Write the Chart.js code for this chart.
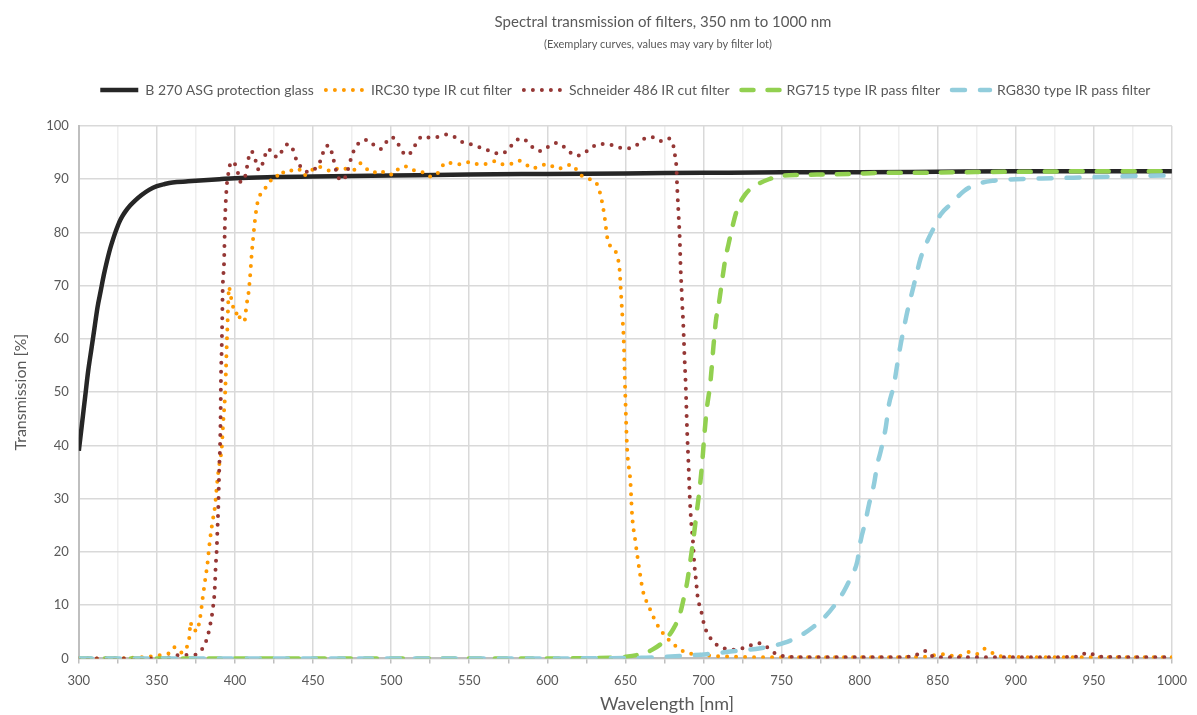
<!DOCTYPE html>
<html>
<head>
<meta charset="utf-8">
<script src="https://cdn.jsdelivr.net/npm/chart.js@4.4.1/dist/chart.umd.min.js"></script>
<style>
  body { margin: 0; background: #fff; }
  #wrap { width: 1197px; height: 715px; }
</style>
</head>
<body>
<div id="wrap"><canvas id="filterChart" width="1197" height="715"></canvas></div>
<script>
// B 270 ASG protection glass
const b270Nm = [300, 302, 304, 306, 308, 310, 312, 314, 316, 318, 320, 322, 324, 326, 328, 330, 333, 336, 340, 345, 350, 355, 360, 370, 380, 390, 400, 425, 450, 500, 550, 600, 650, 700, 750, 800, 850, 900, 950, 1000];
const b270T = [39, 44, 49, 54, 58, 62, 66, 69, 72, 74.6, 76.9, 78.8, 80.5, 82, 83.1, 84, 85.1, 86, 87, 88, 88.7, 89.1, 89.4, 89.6, 89.8, 90.0, 90.2, 90.4, 90.5, 90.7, 90.9, 91.0, 91.1, 91.2, 91.3, 91.3, 91.4, 91.5, 91.5, 91.5];

// IRC30 type IR cut filter
const irc30Nm = [300, 320, 340, 350, 355, 358, 361, 364, 367, 369, 370.7, 371.6, 372.5, 374, 376, 377, 378, 379.3, 380.8, 382.3, 384, 385.7, 387.2, 388.7, 390, 391.5, 392.5, 393.6, 394.2, 394.7, 395.3, 395.7, 396.2, 397, 398.3, 399.4, 400.4, 402.4, 403.2, 406, 407.5, 408.5, 409.6, 410.7, 411.7, 412.8, 414.3, 416, 419.2, 421.8, 426.3, 428.4, 432.7, 436.5, 440.6, 443.8, 448.1, 452.4, 457.3, 462.2, 467.3, 471.6, 476.3, 480.1, 484, 488.3, 493, 497.2, 501.5, 505.1, 510, 514.3, 519.7, 523.9, 528.8, 531.8, 535.7, 541, 546, 551, 556, 561, 566.5, 571.4, 576.7, 581.6, 586.3, 590.6, 595.7, 600.8, 605.8, 610.5, 615.4, 619, 622.6, 627.1, 631.4, 633.3, 634.6, 636.5, 638.7, 641.7, 644.4, 646.4, 647, 648.3, 648.9, 650, 651.1, 653.2, 654.3, 656.4, 658.5, 661.3, 665, 669.2, 672.4, 678.8, 687.4, 698, 720, 760, 800, 840, 855, 862, 870, 875, 880, 884, 890, 920, 960, 1000];
const irc30T = [0, 0, 0.2, 0.5, 0.8, 1, 2.1, 1.2, 1.1, 2, 3.8, 6.8, 5.4, 5.3, 5.1, 6.6, 8.3, 11.3, 14.5, 17.6, 22.3, 25.8, 28.6, 33.3, 36.5, 39.5, 44.5, 49.2, 53.9, 58.6, 63.5, 67, 69.8, 68.4, 66.8, 65.2, 64.7, 65.2, 63.7, 63.3, 66.6, 68.2, 71.5, 75.9, 79.1, 82.3, 85.4, 87, 88.2, 89.6, 90.1, 91.5, 91.1, 91.7, 92, 90.7, 91.4, 92.4, 92, 91.5, 92.2, 91.9, 91.8, 93, 92, 91.2, 91.7, 90.9, 90.9, 92.1, 92.4, 91.7, 91.4, 90.5, 90.8, 92.1, 93.2, 92.8, 92.9, 93.3, 92.8, 92.9, 93.4, 92.8, 92.9, 93.5, 92.8, 92, 92.6, 92.8, 92, 92.2, 92.8, 91.7, 90.5, 90, 89.3, 87.9, 86.4, 83.3, 78.6, 77.1, 75.9, 72.7, 69.6, 63.3, 60.2, 48.9, 39.5, 33.3, 27, 22, 17.6, 12.6, 9.8, 7, 5.4, 3.2, 1.3, 0.7, 0.3, 0.2, 0.2, 0.3, 0.8, 0.3, 1.2, 0.8, 1.8, 1.2, 0.4, 0.2, 0.2, 0.2];

// Schneider 486 IR cut filter
const schneiderNm = [300, 320, 340, 353.6, 364, 374.8, 378.6, 381.2, 382.9, 384, 385.1, 385.7, 386.5, 387.2, 387.6, 388.3, 388.7, 389.3, 389.7, 390, 390.4, 390.8, 391, 391.5, 391.9, 392.1, 393, 393.6, 394.7, 396.2, 397.4, 400.4, 402.1, 403.6, 406.4, 407.5, 408.5, 409.6, 412, 413.5, 415.4, 417.5, 419.2, 421.3, 424.5, 428, 430.5, 434.2, 437.4, 439.5, 441.7, 446, 451, 454.1, 456, 457.3, 460.5, 462.2, 463.5, 464.7, 466.5, 469.4, 471.6, 473.3, 474.8, 476.9, 480.1, 485, 489.1, 493.4, 496.6, 500.2, 504, 506.6, 510.3, 513.9, 516.5, 520.3, 525, 530.6, 535.7, 540.8, 545.5, 550.6, 555.8, 560.9, 565.6, 570.7, 575.2, 578.8, 583.3, 587.8, 591.7, 596.3, 601.1, 606, 610.5, 614.3, 619, 623.9, 628.2, 632.9, 638.3, 643.6, 648.9, 654.3, 658.5, 662.8, 668, 672.9, 677.4, 680.3, 681.4, 682.1, 682.7, 683.1, 683.5, 684.2, 684.8, 685.4, 685.9, 686.5, 687, 687.8, 688.7, 689.5, 690.4, 691.2, 692.1, 693.2, 694.2, 695.3, 696.4, 697.6, 699.1, 700.2, 701.9, 704.5, 708.3, 713, 718.4, 723.7, 729, 734, 738.7, 743, 747.9, 755, 780, 820, 835, 839, 843, 846, 855, 900, 940, 946, 950, 955, 1000];
const schneiderT = [0, 0, 0, 0, 0.6, 0.7, 1.6, 3, 4.6, 6.2, 7.7, 9.3, 10.8, 14, 17.1, 20.4, 23.6, 28.3, 33, 36.4, 39.5, 45.8, 52.1, 58.3, 64.8, 69, 74.3, 82.1, 88.6, 91.7, 93.3, 92.6, 91, 89.5, 90.4, 92, 93.6, 95.2, 94.8, 93.2, 91.7, 92.8, 94.4, 95.7, 94.5, 94.2, 95.6, 96.6, 95.4, 93.5, 92.5, 91.4, 91.9, 93.1, 94.5, 96, 96.3, 94.8, 93.2, 91.7, 90.2, 89.8, 91.2, 92.8, 94.4, 95.8, 97, 97.4, 96.4, 95.7, 96.9, 97.9, 96.9, 95.4, 94.5, 95.6, 97, 98.1, 97.8, 98, 98.4, 97.9, 97, 96.6, 96.1, 95.6, 95, 94.8, 95.7, 96.9, 97.7, 96.9, 95.7, 95.3, 96.2, 96.8, 96.1, 95.1, 94.4, 95, 95.9, 96.6, 96.6, 96.2, 95.8, 95.9, 96.7, 97.7, 97.9, 97.2, 97.7, 96.7, 95.3, 93.7, 92.2, 89, 86.5, 82.6, 79, 73.1, 69.9, 66, 63.3, 57.1, 50.8, 43, 36.7, 30.5, 25.8, 22.3, 17.6, 14.5, 11.3, 9.8, 8.2, 6.6, 5.1, 3.8, 2.6, 1.9, 1.6, 1.8, 2.3, 2.9, 2.6, 1.5, 0.7, 0.3, 0.2, 0.2, 0.4, 1.2, 1.4, 0.5, 0.2, 0.2, 0.3, 1.1, 0.7, 0.3, 0.2];

// RG715 type IR pass filter
const rg715Nm = [300, 400, 500, 600, 640, 650, 658.5, 667, 675.6, 681, 684.8, 687.4, 689.5, 691.7, 693.6, 695.5, 697.6, 699.1, 700.6, 702, 704.5, 706.4, 708, 709.8, 711.9, 714, 716.2, 718.4, 721.6, 726.9, 734.4, 741.9, 749.4, 762, 777, 796, 813, 835, 860, 900, 950, 1000];
const rg715T = [0, 0, 0, 0, 0.1, 0.3, 0.7, 1.6, 3.5, 5.7, 8.2, 11.3, 14.2, 18.5, 22.5, 27, 32, 36.4, 42, 46.5, 52, 58.6, 63.5, 66.5, 70.9, 75, 78, 80.9, 84.3, 87.2, 89, 90, 90.6, 90.8, 90.9, 91, 91.2, 91.2, 91.3, 91.4, 91.5, 91.5];

// RG830 type IR pass filter
const rg830Nm = [300, 400, 500, 600, 660, 687.4, 702.3, 717.3, 736.5, 751.5, 761.1, 770.7, 777.1, 783.5, 789.9, 794.2, 798.5, 800.6, 803.8, 806, 809.2, 811.3, 813.5, 816.7, 818.8, 822, 824.1, 826.3, 828.4, 830.6, 833.8, 835.9, 839.1, 843.4, 847.6, 851.9, 858.3, 866.9, 874.4, 885, 900, 925, 950, 975, 1000];
const rg830T = [0, 0, 0, 0, 0.1, 0.5, 0.8, 1.3, 1.9, 2.9, 4.1, 6, 7.6, 9.8, 12.6, 15.1, 18.2, 22, 25.8, 28.9, 32.7, 36.4, 38.9, 43.3, 47.7, 51.4, 55.2, 59, 62.1, 65.2, 69, 71.5, 75.2, 78.4, 80.9, 83.4, 85.3, 87.8, 89, 89.7, 90, 90.2, 90.4, 90.6, 90.7];

const seriesNames = ['B 270 ASG protection glass', 'IRC30 type IR cut filter', 'Schneider 486 IR cut filter', 'RG715 type IR pass filter', 'RG830 type IR pass filter'];

const chartTitle = 'Spectral transmission of filters, 350 nm to 1000 nm';
const chartSubtitle = '(Exemplary curves, values may vary by filter lot)';
const xAxisTitle = 'Wavelength [nm]';

const textColor = '#595959';
const fontFamily = 'Lato, "Open Sans", sans-serif';

const toPoints = (xs, ys) => xs.map((x, i) => ({ x: x, y: ys[i] }));

// titles drawn by hand so they sit where the original has them
const titlePlugin = {
  id: 'titleText',
  afterDraw(chart) {
    const c = chart.ctx;
    c.save();
    c.fillStyle = textColor;
    c.textAlign = 'center';
    c.textBaseline = 'middle';
    c.font = '15px ' + fontFamily;
    c.fillText(chartTitle, 663, 22);
    c.font = '11px ' + fontFamily;
    c.fillText(chartSubtitle, 658, 44);
    c.font = '18px ' + fontFamily;
    c.fillText(xAxisTitle, 667, 704);
    c.restore();
  }
};

// extra room between legend and plot
const legendGap = {
  id: 'legendGap',
  beforeInit(chart) {
    const fit = chart.legend.fit;
    chart.legend.fit = function () {
      fit.bind(chart.legend)();
      this.height += 19;
    };
  }
};

const lineDefaults = {
  pointRadius: 0,
  pointHoverRadius: 0,
  fill: false,
  cubicInterpolationMode: 'monotone',
  borderCapStyle: 'round',
  borderJoinStyle: 'round'
};

const ctx = document.getElementById('filterChart').getContext('2d');
new Chart(ctx, {
  type: 'line',
  data: {
    datasets: [
      { ...lineDefaults, label: seriesNames[0], data: toPoints(b270Nm, b270T), borderColor: '#262626', backgroundColor: '#262626', borderWidth: 4.5, borderCapStyle: 'butt', order: 5 },
      { ...lineDefaults, label: seriesNames[1], data: toPoints(irc30Nm, irc30T), borderColor: '#FF9A00', backgroundColor: '#FF9A00', borderWidth: 4, borderDash: [0, 9], order: 4 },
      { ...lineDefaults, label: seriesNames[2], data: toPoints(schneiderNm, schneiderT), borderColor: '#953735', backgroundColor: '#953735', borderWidth: 4, borderDash: [0, 9], order: 3 },
      { ...lineDefaults, label: seriesNames[3], data: toPoints(rg715Nm, rg715T), borderColor: '#92D050', backgroundColor: '#92D050', borderWidth: 4.5, borderDash: [12, 14], order: 2 },
      { ...lineDefaults, label: seriesNames[4], data: toPoints(rg830Nm, rg830T), borderColor: '#92CDDC', backgroundColor: '#92CDDC', borderWidth: 4.5, borderDash: [13, 15], order: 1 }
    ]
  },
  options: {
    responsive: false,
    animation: false,
    layout: { padding: { top: 71, left: 11, right: 24, bottom: 16 } },
    plugins: {
      title: { display: false },
      tooltip: { enabled: false },
      legend: {
        position: 'top',
        fullSize: false,
        labels: {
          usePointStyle: true,
          pointStyleWidth: 38,
          boxHeight: 10,
          padding: 12,
          color: textColor,
          font: { family: fontFamily, size: 14 },
          generateLabels: chart => chart.data.datasets.map((ds, i) => ({
            text: ds.label,
            datasetIndex: i,
            fillStyle: ds.borderColor,
            strokeStyle: ds.borderColor,
            fontColor: textColor,
            lineWidth: ds.borderWidth,
            lineDash: ds.borderDash || [],
            lineCap: ds.borderCapStyle,
            pointStyle: 'line',
            hidden: false
          }))
        }
      }
    },
    scales: {
      x: {
        type: 'linear',
        min: 300,
        max: 1000,
        border: { color: '#bfbfbf', width: 2 },
        grid: {
          color: c => (c.tick && c.tick.value % 50 === 0) ? '#d9d9d9' : '#eeeeee',
          lineWidth: 1.5,
          tickLength: 5,
          tickColor: '#bfbfbf'
        },
        ticks: {
          stepSize: 25,
          autoSkip: false,
          maxRotation: 0,
          color: textColor,
          font: { family: fontFamily, size: 13 },
          padding: 10,
          callback: v => (v % 50 === 0 ? v : '')
        }
      },
      y: {
        min: 0,
        max: 100,
        border: { color: '#bfbfbf', width: 2 },
        grid: { color: '#d9d9d9', lineWidth: 1.5, drawTicks: false },
        ticks: {
          stepSize: 10,
          color: textColor,
          font: { family: fontFamily, size: 13 },
          padding: 10
        },
        title: {
          display: true,
          text: 'Transmission [%]',
          color: textColor,
          font: { family: fontFamily, size: 16 },
          padding: { top: 0, bottom: 6 }
        }
      }
    }
  },
  plugins: [titlePlugin, legendGap]
});
</script>
</body>
</html>
